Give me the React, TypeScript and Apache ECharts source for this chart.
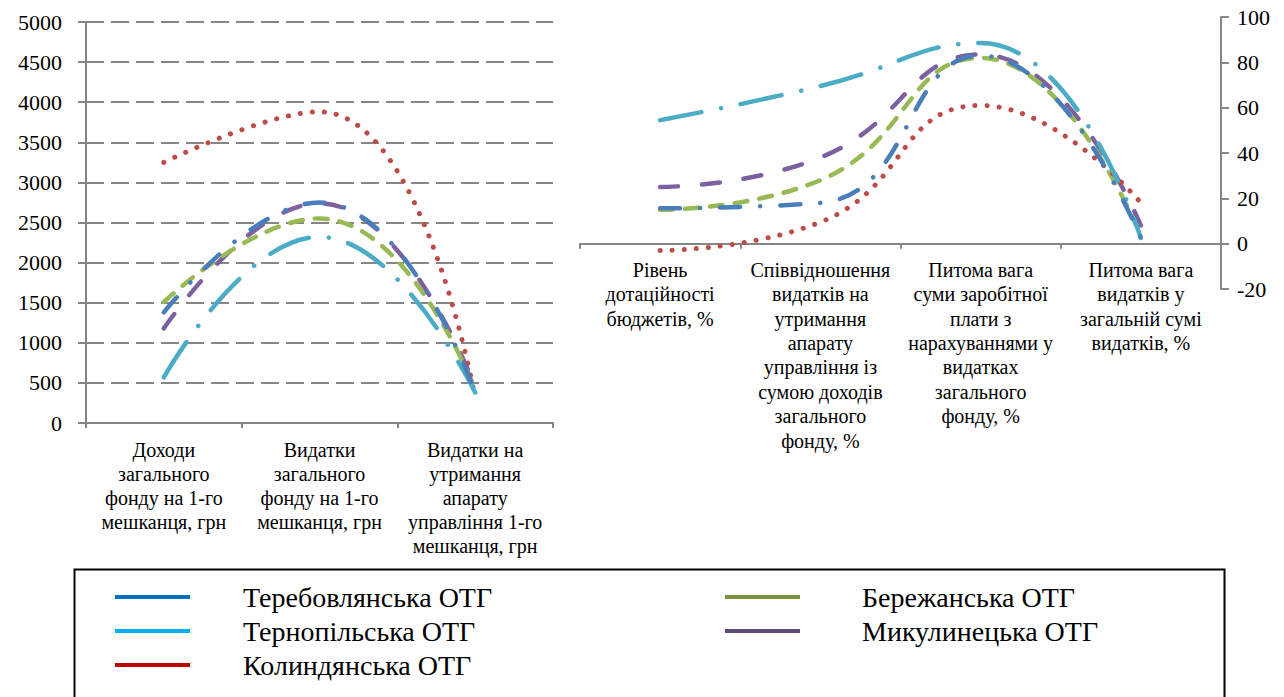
import React, { useEffect, useRef } from "react";
import * as echarts from "echarts";

const FONT = "Liberation Serif";

const leftCategories = [
  "Доходи\nзагального\nфонду на 1-го\nмешканця, грн",
  "Видатки\nзагального\nфонду на 1-го\nмешканця, грн",
  "Видатки на\nутримання\nапарату\nуправління 1-го\nмешканця, грн",
];

const rightCategories = [
  "Рівень\nдотаційності\nбюджетів, %",
  "Співвідношення\nвидатків на\nутримання\nапарату\nуправління із\nсумою доходів\nзагального\nфонду, %",
  "Питома вага\nсуми заробітної\nплати з\nнарахуваннями у\nвидатках\nзагального\nфонду, %",
  "Питома вага\nвидатків у\nзагальній сумі\nвидатків, %",
];

const seriesNames = [
  "Теребовлянська ОТГ",
  "Тернопільська ОТГ",
  "Колиндянська ОТГ",
  "Бережанська ОТГ",
  "Микулинецька ОТГ",
];

// Left chart values (грн)
const terebovlyaLeft = [1380, 2750, 380];
const ternopilLeft = [570, 2320, 380];
const kolyndyanLeft = [3250, 3880, 310];
const berezhanLeft = [1510, 2550, 420];
const mykulynetsLeft = [1180, 2740, 450];

// Right chart values (%)
const terebovlyaRight = [15.6, 18, 83, 2.5];
const ternopilRight = [54.5, 69.5, 88.5, 2.5];
const kolyndyanRight = [-3, 9.5, 61, 18];
const berezhanRight = [14.9, 28, 82, 3.5];
const mykulynetsRight = [25, 38, 83.5, 8];

const leftTicks = { min: 0, max: 5000, interval: 500 };
const rightTicks = { min: -20, max: 100, interval: 20 };

const lineColors = ["#4A7EBB", "#4BACC6", "#BE4B48", "#98B954", "#7D60A0"];
const legendColors = ["#0070C0", "#00B0F0", "#C00000", "#77933C", "#604A7B"];
const dashes: any[] = [
  [20, 20, 0.1, 20],
  [42, 20, 0.1, 20],
  [0.1, 12],
  [13, 12],
  [18, 24],
];

export default function App() {
  const ref = useRef<HTMLDivElement>(null);

  useEffect(() => {
    document.body.style.margin = "0";
    const chart = echarts.init(ref.current!, undefined, { renderer: "svg" });
    const leftData = [terebovlyaLeft, ternopilLeft, kolyndyanLeft, berezhanLeft, mykulynetsLeft];
    const rightData = [terebovlyaRight, ternopilRight, kolyndyanRight, berezhanRight, mykulynetsRight];

    const mkSeries = (data: number[][], axis: number) =>
      data.map((d, i) => ({
        name: seriesNames[i],
        type: "line",
        xAxisIndex: axis,
        yAxisIndex: axis,
        data: d,
        smooth: 0.5,
        showSymbol: false,
        symbol: "none",
        lineStyle: {
          color: lineColors[i],
          width: i === 2 ? 5 : 4.5,
          type: dashes[i],
          cap: "round",
        },
        itemStyle: { color: lineColors[i] },
        z: 5 - i,
      }));

    const axisLineStyle = { color: "#868686", width: 2 };
    const labelBase = { fontFamily: FONT, color: "#000" };
    const plain = (v: number) => String(v);

    const legendBase = {
      orient: "vertical",
      icon: "rect",
      itemWidth: 75,
      itemHeight: 4,
      itemGap: 0,
      padding: 0,
      selectedMode: false,
      itemStyle: { borderWidth: 0 },
    };

    const option: any = {
      animation: false,
      backgroundColor: "#fff",
      textStyle: { fontFamily: FONT },
      grid: [
        { left: 86, top: 22, width: 467, height: 401 },
        { left: 580, top: 17, width: 641, height: 272 },
      ],
      xAxis: [
        {
          type: "category",
          gridIndex: 0,
          data: leftCategories,
          boundaryGap: true,
          axisLine: { lineStyle: axisLineStyle },
          axisTick: { show: true, length: 5, lineStyle: axisLineStyle },
          axisLabel: { ...labelBase, interval: 0, fontSize: 20, lineHeight: 24, margin: 15 },
          splitLine: { show: false },
        },
        {
          type: "category",
          gridIndex: 1,
          data: rightCategories,
          boundaryGap: true,
          offset: -45.33,
          axisLine: { onZero: false, lineStyle: axisLineStyle },
          axisTick: { show: true, length: 5, lineStyle: axisLineStyle },
          axisLabel: { ...labelBase, interval: 0, fontSize: 20, lineHeight: 24.4, margin: 14 },
          splitLine: { show: false },
        },
      ],
      yAxis: [
        {
          type: "value",
          gridIndex: 0,
          ...leftTicks,
          axisLine: { show: true, lineStyle: axisLineStyle },
          axisTick: { show: true, length: 8, lineStyle: axisLineStyle },
          axisLabel: { ...labelBase, fontSize: 22, margin: 24, formatter: plain },
          splitLine: { show: true, lineStyle: { color: "#868686", width: 2, type: [18, 7] } },
        },
        {
          type: "value",
          gridIndex: 1,
          position: "right",
          ...rightTicks,
          axisLine: { show: true, lineStyle: axisLineStyle },
          axisTick: { show: true, length: 8, lineStyle: axisLineStyle },
          axisLabel: { ...labelBase, fontSize: 22, margin: 16, formatter: plain },
          splitLine: { show: false },
        },
      ],
      legend: [
        {
          ...legendBase,
          left: 115,
          top: 580,
          textStyle: { ...labelBase, fontSize: 28, lineHeight: 34, padding: [0, 0, 0, 48] },
          data: [0, 1, 2].map((i) => ({ name: seriesNames[i], itemStyle: { color: legendColors[i], borderWidth: 0 } })),
        },
        {
          ...legendBase,
          left: 725,
          top: 580,
          textStyle: { ...labelBase, fontSize: 28, lineHeight: 34, padding: [0, 0, 0, 57] },
          data: [3, 4].map((i) => ({ name: seriesNames[i], itemStyle: { color: legendColors[i], borderWidth: 0 } })),
        },
      ],
      graphic: [
        {
          type: "rect",
          left: 72,
          top: 567,
          shape: { width: 1150, height: 140 },
          style: { fill: "none", stroke: "#000", lineWidth: 2 },
          silent: true,
        },
      ],
      series: [...mkSeries(leftData, 0), ...mkSeries(rightData, 1)],
    };

    chart.setOption(option);
    return () => chart.dispose();
  }, []);

  return <div ref={ref} style={{ width: 1284, height: 697 }} />;
}
